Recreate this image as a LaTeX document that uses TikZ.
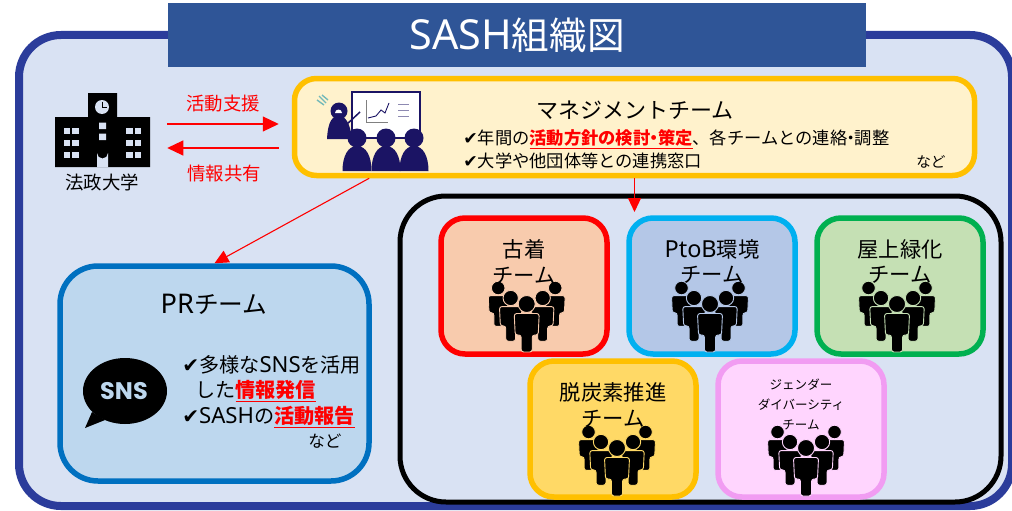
\documentclass[tikz,border=0pt]{standalone}
\usepackage{fontspec}
\usepackage{tikz}
\usetikzlibrary{arrows.meta,calc}
\setmainfont{Noto Sans CJK JP}
\newfontfamily\latinfont[Scale=1.1]{Noto Sans}
\newfontfamily\checkfont{DejaVu Sans}
\newfontfamily\snsfont{Poppins}
\def\px{0.75pt}
\definecolor{framecol}{HTML}{2B3C9B}
\definecolor{framefill}{HTML}{D9E2F3}
\definecolor{titlecol}{HTML}{2F5597}
\definecolor{navycol}{HTML}{1B1464}
\definecolor{mgmtcol}{HTML}{FFC000}
\definecolor{mgmtfill}{HTML}{FFF2CC}
\definecolor{prcol}{HTML}{0070C0}
\definecolor{prfill}{HTML}{BDD7EE}
\definecolor{furugifill}{HTML}{F8CBAD}
\definecolor{ptobcol}{HTML}{00B0F0}
\definecolor{ptobfill}{HTML}{B4C7E7}
\definecolor{midoricol}{HTML}{00B050}
\definecolor{midorifill}{HTML}{C5E0B4}
\definecolor{datsufill}{HTML}{FFD966}
\definecolor{gendercol}{HTML}{F19CF2}
\definecolor{genderfill}{HTML}{FFD5FE}
\newcommand{\chk}{{\checkfont\char"2714}}
\newcommand{\hilite}[1]{{\color{red}\bfseries\underline{#1}}}
\newcommand{\nakaten}{\kern-.28em・\kern-.28em}
% one figure of a crowd: x, y of the head, scale, halo colour
\newcommand{\onefig}[4]{
	\begin{scope}[shift={(#1,#2)},scale=#3]
		\filldraw[black,draw=#4,line width=.9*\px] (0,0) circle (8.5);
		\filldraw[black,draw=#4,line width=.9*\px,rounded corners=2.5*\px] (-12.5,9.5) -- (12.5,9.5) -- (11.5,31)
			-- (5.5,31) -- (5.5,48) -- (-5.5,48) -- (-5.5,31) -- (-11.5,31) -- cycle;
	\end{scope}}
\newcommand{\crowd}[3]{
	\onefig{#1-28.5}{#2-16}{0.8}{#3}
	\onefig{#1+28.5}{#2-16}{0.8}{#3}
	\onefig{#1-16}{#2-6}{0.9}{#3}
	\onefig{#1+16}{#2-6}{0.9}{#3}
	\onefig{#1}{#2}{1}{#3}}

\begin{document}
\begin{tikzpicture}[x=\px,y=-\px,auto,node distance=188*\px]
	\tikzstyle{team}=[draw,rectangle,rounded corners=24*\px,line width=5.5*\px,minimum width=166*\px,minimum height=136*\px]
	\tikzstyle{teamtext}=[align=center,inner sep=0pt,font=\fontsize{16}{18.8}\selectfont]
	\tikzstyle{redline}=[red,line width=1.1*\px,-{Triangle[length=16*\px,width=15*\px]}]
	\tikzstyle{redthin}=[red,line width=1.1*\px,-{Triangle[length=14*\px,width=13*\px]}]
	\tikzstyle{bodytext}=[align=left,anchor=west,inner sep=0pt]

	\useasboundingbox (0,0) rectangle (1012,510);
	\fill[white] (0,0) rectangle (1012,510);

	\node[draw=framecol,fill=framefill,rectangle,rounded corners=42*\px,line width=8*\px,minimum width=993*\px,minimum height=471*\px] (frame) at (515.5,270.5) {};
	\node[fill=titlecol,rectangle,minimum width=698*\px,minimum height=64*\px,text=white,font=\fontsize{28.2}{30}\selectfont] (title) at (517,35) {{\latinfont SASH}組織図};

	% university
	\node[minimum width=95*\px,minimum height=74*\px,inner sep=0pt] (hosei) at (102.5,130) {};
	\fill[black] (55,117) rectangle (150,167) (88,93) rectangle (117,117);
	\fill[framefill] (102,107) circle (7);
	\draw[black,line width=1*\px] (102,101.5) -- (102,107) -- (107,107);
	\foreach \wx in {63.5,72,126,134.5}
		\foreach \wy in {127.5,139.5,151.5}
			\fill[framefill] (\wx,\wy) rectangle +(6.5,6.5);
	\fill[framefill] (99,122.5) rectangle (106,129) (99,133.5) rectangle (106,140);
	\fill[framefill] (97,167) -- (97,153) arc[start angle=180,end angle=0,radius=5.5] -- (108,167) -- cycle;
	\node[inner sep=0pt,font=\fontsize{13.8}{16}\selectfont] (hoseilabel) at (102,182) {法政大学};

	% management team
	\node[draw=mgmtcol,fill=mgmtfill,rectangle,rounded corners=22*\px,line width=5.5*\px,minimum width=680*\px,minimum height=97*\px] (mgmt) at (634.5,127) {};
	\fill[white] (352,92) rectangle (420,138);
	\draw[navycol,line width=1.5*\px] (352,92) rectangle (420,138);
	\draw[black!50,line width=.8*\px] (366,100) -- (366,122) -- (388,122);
	\draw[navycol,line width=.9*\px] (368,118) -- (376,116) -- (381,110) -- (385,113) -- (389,103);
	\draw[navycol!50,line width=1*\px] (398,104) -- (409,104) (398,110) -- (409,110) (398,116) -- (409,116);
	\draw[teal!55,line width=1.4*\px] (319,96) -- (326,103) (322,95) -- (328,100) (317,100) -- (324,105);
	\draw[navycol,line width=1.5*\px] (346,125) -- (360,112);
	\fill[navycol] (327,139) .. controls (328,120) and (333,116) .. (339,116) .. controls (345,116) and (350,122) .. (352,139) -- cycle;
	\fill[navycol] (339,111) circle (8.5);
	\fill[white] (335,113) arc[start angle=180,end angle=360,radius=3.5] -- cycle;
	\foreach \hx in {357,386,414}{
		\fill[navycol] (\hx-14.5,171) .. controls (\hx-14.5,156) and (\hx-9,146) .. (\hx,146) .. controls (\hx+9,146) and (\hx+14.5,156) .. (\hx+14.5,171) -- cycle;
		\fill[navycol] (\hx,138) circle (9.5);
	}
	\node[inner sep=0pt,font=\fontsize{16.5}{20}\selectfont] (mgmttitle) at (635,110) {マネジメントチーム};
	\node[bodytext,font=\fontsize{12.95}{16}\selectfont] (mgmtline) at (463,139) {\chk 年間の\hilite{活動方針の検討\nakaten 策定}、各チームとの連絡\nakaten 調整};
	\node[bodytext,font=\fontsize{12.95}{16}\selectfont] (mgmtlineb) at (463,161) {\chk 大学や他団体等との連携窓口};
	\node[bodytext,font=\fontsize{11}{14}\selectfont] (mgmtnado) at (916,162) {など};

	% arrows between university and management
	\coordinate (sienrow) at (0,124);
	\coordinate (kyoyurow) at (0,148);
	\draw[redline,shorten <=17*\px,shorten >=13*\px] (hosei.east |- sienrow) -- (mgmt.west |- sienrow);
	\draw[redline,shorten <=13*\px,shorten >=17*\px] (mgmt.west |- kyoyurow) -- (hosei.east |- kyoyurow);
	\node[inner sep=0pt,text=red,font=\fontsize{13.8}{16}\selectfont] (sien) at (223,104) {活動支援};
	\node[inner sep=0pt,text=red,font=\fontsize{13.8}{16}\selectfont] (kyoyu) at (224,174) {情報共有};

	% PR team
	\node[draw=prcol,fill=prfill,rectangle,rounded corners=38*\px,line width=5.5*\px,minimum width=309*\px,minimum height=215*\px] (pr) at (214.5,373.5) {};
	\node[inner sep=0pt,font=\fontsize{18.5}{22}\selectfont] (prtitle) at (214,304) {{\latinfont PR}チーム};
	\fill[black] (125,391) ellipse (42 and 33);
	\fill[black] (92,412) -- (85,428) -- (105,420) -- cycle;
	\node[inner sep=0pt,text=prfill,font=\snsfont\bfseries\fontsize{18}{20}\selectfont] (snsmark) at (124,391) {SNS};
	\node[bodytext,font=\fontsize{15.1}{16}\selectfont] (prline) at (182,365) {\chk 多様な{\latinfont SNS}を活用};
	\node[bodytext,font=\fontsize{15.1}{16}\selectfont] (prlineb) at (195,391) {した\hilite{情報発信}};
	\node[bodytext,font=\fontsize{15.1}{16}\selectfont] (prlinec) at (182,417) {\chk {\latinfont SASH}の\hilite{活動報告}};
	\node[bodytext,font=\fontsize{12.5}{14}\selectfont] (prnado) at (308,441) {など};

	% teams
	\node[draw=black,rectangle,rounded corners=46*\px,line width=5*\px,minimum width=601*\px,minimum height=306*\px] (group) at (700.5,349) {};

	\node[team,draw=red,fill=furugifill] (furugi) at (524,286) {};
	\node[team,draw=ptobcol,fill=ptobfill] (ptob) [right of=furugi] {};
	\node[team,draw=midoricol,fill=midorifill] (midori) [right of=ptob] {};
	\node[team,draw=mgmtcol,fill=datsufill] (datsu) at (613,429) {};
	\node[team,draw=gendercol,fill=genderfill] (gender) [right of=datsu] {};

	\crowd{526.7}{304}{furugifill}
	\crowd{710}{304}{ptobfill}
	\crowd{897}{304}{midorifill}
	\crowd{617}{448}{datsufill}
	\crowd{806}{448}{genderfill}

	\node[teamtext] (furugilabel) at ([yshift=-35pt]furugi.north) {古着\\チーム};
	\node[teamtext] (ptoblabel) at ([yshift=-35pt]ptob.north) {{\latinfont PtoB}環境\\チーム};
	\node[teamtext] (midorilabel) at ([yshift=-35pt]midori.north) {屋上緑化\\チーム};
	\node[teamtext] (datsulabel) at ([yshift=-35pt]datsu.north) {脱炭素推進\\チーム};
	\node[teamtext,font=\fontsize{9.4}{14.8}\selectfont] (genderlabel) at ([yshift=-34.5pt]gender.north) {ジェンダー\\ダイバーシティ\\チーム};

	\coordinate (grouptip) at (633,212);
	\draw[redthin] ($(mgmt.south west)!0.113!(mgmt.south east)$) -- (pr.north);
	\draw[redthin] (mgmt.south) -- (mgmt.south |- grouptip);
\end{tikzpicture}
\end{document}
